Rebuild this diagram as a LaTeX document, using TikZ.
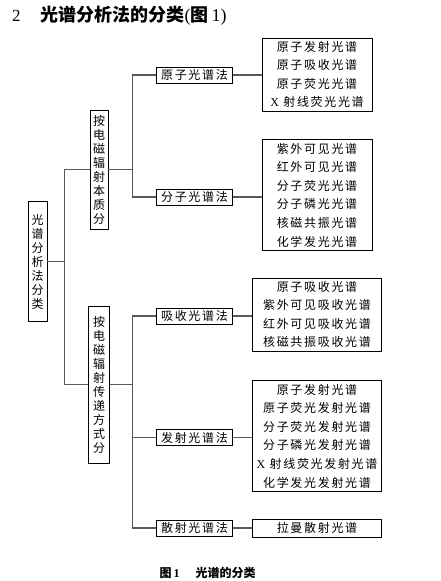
\documentclass[tikz,border=0pt]{standalone}
\usepackage{fontspec}
\setmainfont{Liberation Serif}
\newfontfamily\cjk[LetterSpace=14]{Noto Sans CJK SC}
\newfontfamily\cjkv{Noto Sans CJK SC}
\newfontfamily\latin{Liberation Serif}
\begin{document}
\begin{tikzpicture}[
    x=1pt, y=-1pt,
    every node/.style={font=\cjk\fontsize{12}{18.6}\selectfont},
    box/.style={
      draw, line width=0.9pt, inner sep=0pt,
      minimum width=76pt, minimum height=16pt,
    },
    vbox/.style={
      draw, line width=0.9pt, inner sep=0pt, align=center,
      font=\cjkv\fontsize{12}{14}\selectfont,
    },
    listbox/.style={
      draw, line width=0.9pt, inner xsep=0pt, inner ysep=3pt,
      align=center,
    },
    link/.style={draw=black!65, line width=1.3pt},
  ]
\useasboundingbox (0,0) rectangle (441,581);
% --- column x-positions
\def\cA{37.5}
\def\cB{99}
\def\cC{194.5}
\def\cD{317}
% --- trunk x-positions
\coordinate (jA) at (64.3,0);
\coordinate (jB) at (132.3,0);

% Heading and caption
\node[anchor=west, inner sep=0pt] (title) at (12,16)
  {{\latin\fontsize{17}{17}\selectfont 2}\hspace{20pt}{\cjkv\bfseries\fontsize{18}{18}\selectfont 光谱分析法的分类{\latin\mdseries(}图{\latin\mdseries\,1)}}};
\node[inner sep=0pt] (caption) at (207.5,573)
  {{\cjkv\bfseries\fontsize{12}{12}\selectfont 图{\latin\,1}\hspace{16pt}光谱的分类}};

% Root and the two ways of dividing
\node[vbox, minimum width=19pt, minimum height=120pt] (root) at (\cA,261.7) {光\\谱\\分\\析\\法\\分\\类};
\node[vbox, minimum width=18pt, minimum height=119pt] (nature) at (\cB,169.5) {按\\电\\磁\\辐\\射\\本\\质\\分};
\node[vbox, minimum width=21pt, minimum height=157pt] (transfer) at (\cB,384.5) {按\\电\\磁\\辐\\射\\传\\递\\方\\式\\分};

% Methods
\node[box] (atomic) at (\cC,75) {原子光谱法};
\node[box] (molecular) at (\cC,197) {分子光谱法};
\node[box] (absorb) at (\cC,316) {吸收光谱法};
\node[box] (emit) at (\cC,437.5) {发射光谱法};
\node[box] (scatter) at (\cC,528) {散射光谱法};

% Lists of spectra
\node[listbox, minimum width=110pt] (atomiclist) at (\cD,74.5) {%
  原子发射光谱\\原子吸收光谱\\原子荧光光谱\\{\latin X}\ 射线荧光光谱};
\node[listbox, minimum width=110pt] (molecularlist) at (\cD,195) {%
  紫外可见光谱\\红外可见光谱\\分子荧光光谱\\分子磷光光谱\\核磁共振光谱\\化学发光光谱};
\node[listbox, minimum width=129pt] (absorblist) at (\cD,314.5) {%
  原子吸收光谱\\紫外可见吸收光谱\\红外可见吸收光谱\\核磁共振吸收光谱};
\node[listbox, minimum width=129pt] (emitlist) at (\cD,436) {%
  原子发射光谱\\原子荧光发射光谱\\分子荧光发射光谱\\分子磷光发射光谱\\{\latin X}\ 射线荧光发射光谱\\化学发光发射光谱};
\node[listbox, minimum width=129pt, inner ysep=1pt, minimum height=18pt] (scatterlist) at (\cD,528) {拉曼散射光谱};

% Connectors
\draw[link] (root.east) -- (root.east -| jA);
\draw[link] (nature.west) -| (jA |- transfer.west) -- (transfer.west);
\draw[link] (nature.east) -- (nature.east -| jB);
\draw[link] (atomic.west) -| (jB |- molecular.west) -- (molecular.west);
\draw[link] (transfer.east) -- (transfer.east -| jB);
\draw[link] (absorb.west) -| (jB |- scatter.west) -- (scatter.west);
\draw[link] (emit.west) -- (emit.west -| jB);
\draw[link] (atomic.east) -- (atomic.east -| atomiclist.west);
\draw[link] (molecular.east) -- (molecular.east -| molecularlist.west);
\draw[link] (absorb.east) -- (absorb.east -| absorblist.west);
\draw[link] (emit.east) -- (emit.east -| emitlist.west);
\draw[link] (scatter.east) -- (scatter.east -| scatterlist.west);
\end{tikzpicture}
\end{document}
